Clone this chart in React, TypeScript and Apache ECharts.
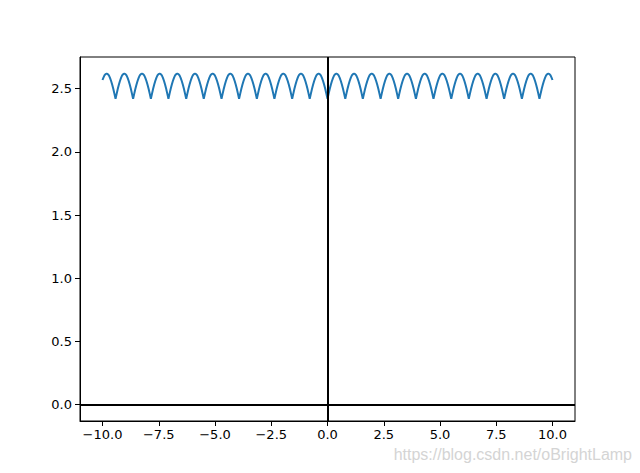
import React, { useEffect, useRef } from 'react';
import * as echarts from 'echarts';

// Cusp positions of the curve, arch profile between two cusps
const cuspX = [-10.21, -9.42, -8.64, -7.85, -7.07, -6.28, -5.5, -4.71, -3.93, -3.14, -2.36, -1.57, -0.79, 0, 0.79, 1.57, 2.36, 3.14, 3.93, 4.71, 5.5, 6.28, 7.07, 7.85, 8.64, 9.42, 10.21];
const archFractions = [0, 0.0625, 0.125, 0.1875, 0.25, 0.3125, 0.375, 0.4375, 0.5, 0.5625, 0.625, 0.6875, 0.75, 0.8125, 0.875, 0.9375, 1];
const archHeights = [2.42, 2.459, 2.497, 2.531, 2.561, 2.586, 2.605, 2.616, 2.62, 2.616, 2.605, 2.586, 2.561, 2.531, 2.497, 2.459, 2.42];
const curveStart = [-10, 2.569];
const curveEnd = [10, 2.569];

const xTicks = [-10, -7.5, -5, -2.5, 0, 2.5, 5, 7.5, 10];
const yTicks = [0, 0.5, 1, 1.5, 2, 2.5];
const watermark = 'https://blog.csdn.net/oBrightLamp';

function buildCurve(): number[][] {
  const pts: number[][] = [curveStart];
  for (let i = 0; i < cuspX.length - 1; i++) {
    const a = cuspX[i];
    const b = cuspX[i + 1];
    for (let j = i === 0 ? 0 : 1; j < archFractions.length; j++) {
      const x = a + (b - a) * archFractions[j];
      if (x > curveStart[0] && x < curveEnd[0]) pts.push([x, archHeights[j]]);
    }
  }
  pts.push(curveEnd);
  return pts;
}

const fmtMinus = (v: number) => (v < 0 ? '\u2212' : '') + Math.abs(v).toFixed(1);

export default function App() {
  const ref = useRef<HTMLDivElement>(null);
  useEffect(() => {
    if (!ref.current) return;
    const chart = echarts.init(ref.current, null, { renderer: 'svg' });
    const labelStyle = { color: '#000', fontSize: 13, fontFamily: 'DejaVu Sans' };
    chart.setOption({
      animation: false,
      backgroundColor: '#fff',
      grid: { left: 80, right: 65, top: 57, bottom: 52, show: true, borderColor: '#000', borderWidth: 1, backgroundColor: 'transparent' },
      xAxis: {
        type: 'value', min: -11, max: 11,
        axisLine: { show: true, onZero: false, lineStyle: { color: '#000', width: 1 } },
        axisTick: { show: true, customValues: xTicks, length: 5, lineStyle: { color: '#000', width: 1 } },
        axisLabel: { show: true, customValues: xTicks, formatter: fmtMinus, margin: 7, ...labelStyle },
        splitLine: { show: false },
      },
      yAxis: {
        type: 'value', min: -0.131, max: 2.751,
        axisLine: { show: true, onZero: false, lineStyle: { color: '#000', width: 1 } },
        axisTick: { show: true, customValues: yTicks, length: 5, lineStyle: { color: '#000', width: 1 } },
        axisLabel: { show: true, customValues: yTicks, formatter: fmtMinus, margin: 8, ...labelStyle },
        splitLine: { show: false },
      },
      graphic: [
        { type: 'text', right: 8, top: 446, style: { text: watermark, fill: '#d4d4d4', fontSize: 16, fontFamily: 'Liberation Sans' } },
      ],
      series: [
        {
          type: 'line', data: buildCurve(), showSymbol: false, smooth: false,
          lineStyle: { color: '#1f77b4', width: 2 },
          markLine: {
            silent: true, symbol: 'none', label: { show: false },
            lineStyle: { color: '#000', width: 2, type: 'solid' },
            data: [{ xAxis: 0 }, { yAxis: 0 }],
          },
        },
      ],
    });
    return () => chart.dispose();
  }, []);
  return <div ref={ref} style={{ position: 'fixed', left: 0, top: 0, width: 640, height: 473 }} />;
}
